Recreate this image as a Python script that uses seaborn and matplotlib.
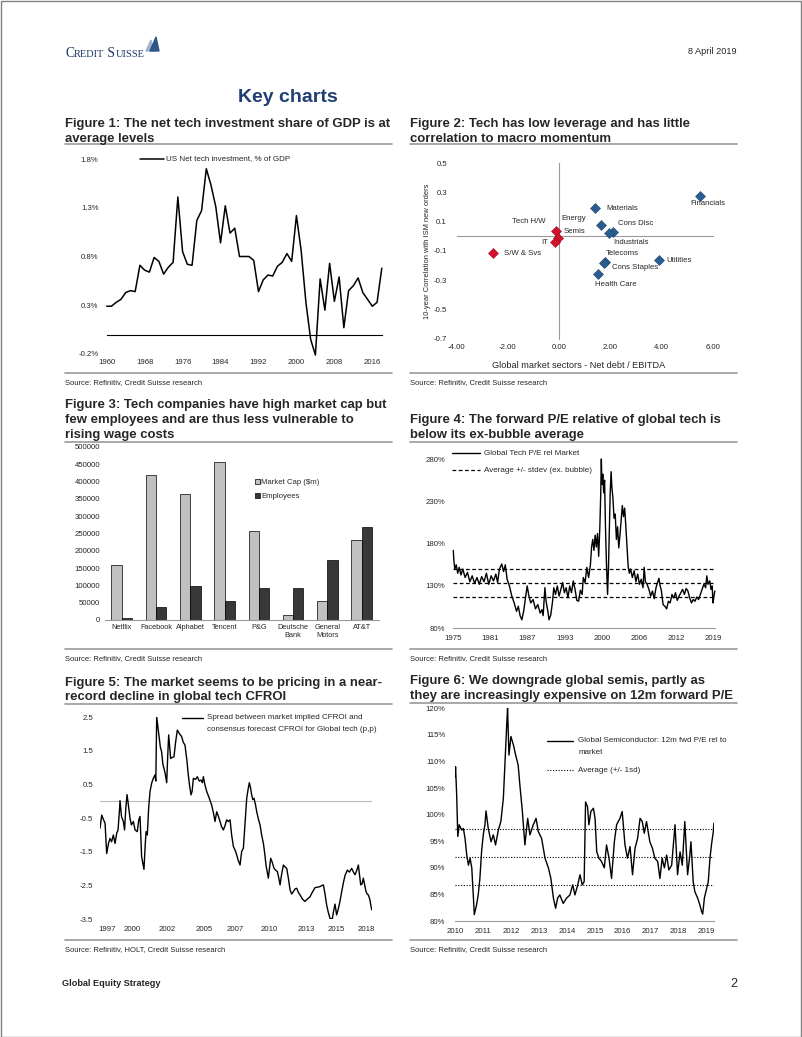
import numpy as np
import pandas as pd
import matplotlib
matplotlib.use("Agg")
import matplotlib.pyplot as plt
from matplotlib.lines import Line2D
from matplotlib.patches import Rectangle, Polygon, Patch
from matplotlib.ticker import FuncFormatter
import seaborn as sns

# ---------------- data ----------------
# Figure 1: US net tech investment, % of GDP (annual)
inv_years = list(range(1960, 2019))
inv_share = [0.29, 0.29, 0.33, 0.36, 0.43, 0.45, 0.44, 0.71, 0.66, 0.64,
             0.79, 0.75, 0.62, 0.69, 0.74, 1.41, 0.85, 0.72, 0.71, 1.17,
             1.27, 1.70, 1.53, 1.31, 0.94, 1.32, 1.04, 1.09, 0.80, 0.80,
             0.80, 0.76, 0.44, 0.56, 0.61, 0.60, 0.70, 0.74, 0.83, 0.75,
             1.22, 0.86, 0.33, -0.05, -0.21, 0.57, 0.25, 0.73, 0.34, 0.59,
             0.07, 0.45, 0.50, 0.58, 0.43, 0.36, 0.29, 0.33, 0.68]

# Figure 2: leverage vs correlation with ISM new orders
sector_names = ["Financials", "Materials", "Energy", "Cons Disc", "Industrials",
                "Telecoms", "Cons Staples", "Health Care", "Utilities"]
sector_leverage = [5.49, 1.41, 1.62, 2.09, 1.96, 1.80, 1.75, 1.51, 3.88]
sector_corr = [0.278, 0.194, 0.075, 0.027, 0.023, -0.173, -0.180, -0.256, -0.164]
tech_names = ["Tech H/W", "Semis", "IT", "S/W & Svs"]
tech_leverage = [-0.14, -0.06, -0.18, -2.58]
tech_corr = [0.039, -0.010, -0.040, -0.114]

# Figure 3: market cap vs employees
companies = ["Netflix", "Facebook", "Alphabet", "Tencent", "P&G",
             "Deutsche\nBank", "General\nMotors", "AT&T"]
market_cap = [160000, 419000, 364000, 455000, 258000, 13500, 54000, 232000]
employees = [7000, 36500, 98000, 56000, 91500, 91500, 172000, 267000]

# Figure 4: global tech P/E rel market (%)
pe_years = [1975.0, 1975.1, 1975.25, 1975.5, 1975.75, 1976.0, 1976.3, 1976.6, 1977.0, 1977.4,
            1977.8, 1978.2, 1978.6, 1979.0, 1979.4, 1979.8, 1980.2, 1980.6, 1981.0, 1981.4,
            1981.8, 1982.2, 1982.5, 1982.8, 1983.2, 1983.5, 1983.8, 1984.1, 1984.5, 1984.9,
            1985.3, 1985.7, 1986.0, 1986.3, 1986.6, 1986.9, 1987.2, 1987.5, 1987.8, 1988.1,
            1988.5, 1988.9, 1989.3, 1989.7, 1990.0, 1990.2, 1990.5, 1990.7, 1991.0, 1991.2,
            1991.5, 1991.8, 1992.0, 1992.3, 1992.6, 1992.9, 1993.2, 1993.5, 1993.8, 1994.1,
            1994.4, 1994.7, 1995.0, 1995.3, 1995.6, 1995.9, 1996.2, 1996.5, 1996.8, 1997.0,
            1997.3, 1997.6, 1997.9, 1998.2, 1998.4, 1998.6, 1998.8, 1999.0, 1999.2, 1999.4,
            1999.6, 1999.8, 1999.95, 2000.05, 2000.15, 2000.3, 2000.45, 2000.6, 2000.75, 2000.9,
            2001.0, 2001.1, 2001.25, 2001.4, 2001.55, 2001.7, 2001.85, 2002.0, 2002.2, 2002.4,
            2002.6, 2002.8, 2003.0, 2003.2, 2003.4, 2003.6, 2003.8, 2004.0, 2004.2, 2004.4,
            2004.6, 2004.8, 2005.0, 2005.3, 2005.6, 2005.9, 2006.2, 2006.5, 2006.8, 2007.1,
            2007.3, 2007.5, 2007.8, 2008.1, 2008.4, 2008.7, 2009.0, 2009.3, 2009.6, 2009.8,
            2010.0, 2010.2, 2010.5, 2010.8, 2011.1, 2011.4, 2011.7, 2012.0, 2012.3, 2012.6,
            2012.9, 2013.2, 2013.5, 2013.8, 2014.1, 2014.4, 2014.7, 2015.0, 2015.3, 2015.6,
            2015.9, 2016.2, 2016.5, 2016.8, 2017.1, 2017.4, 2017.7, 2017.9, 2018.1, 2018.4,
            2018.6, 2018.8, 2018.95, 2019.1, 2019.25]
pe_rel = [172, 160, 150, 155, 145, 152, 143, 150, 140, 146,
          135, 142, 133, 140, 132, 141, 135, 145, 132, 142,
          136, 144, 134, 150, 156, 147, 155, 138, 130, 118,
          110, 100, 106, 95, 90, 100, 115, 130, 118, 110,
          114, 103, 108, 98, 102, 95, 128, 112, 100, 90,
          96, 112, 128, 120, 130, 118, 126, 134, 122, 128,
          116, 130, 122, 136, 126, 113, 112, 125, 120, 140,
          134, 152, 140, 155, 176, 185, 172, 190, 176, 192,
          165, 200, 240, 280, 250, 262, 240, 255, 200, 160,
          140, 120, 150, 195, 240, 265, 245, 235, 210, 215,
          185, 200, 175, 190, 208, 225, 212, 222, 200, 175,
          152, 145, 150, 140, 148, 135, 144, 132, 138, 128,
          152, 135, 132, 126, 118, 124, 115, 128, 135, 139,
          130, 125, 108, 106, 103, 112, 110, 120, 116, 122,
          113, 118, 122, 126, 120, 127, 124, 116, 110, 114,
          112, 117, 114, 120, 126, 132, 128, 142, 132, 136,
          126, 130, 110, 118, 124]
pe_avg = 134.0
pe_sd = 16.5

# Figure 5: market implied minus consensus CFROI (p.p.)
cfroi_years = [1996.46, 1996.60, 1996.75, 1996.87, 1997.00, 1997.15, 1997.27, 1997.40, 1997.54, 1997.68,
               1997.81, 1997.92, 1998.03, 1998.08, 1998.20, 1998.35, 1998.45, 1998.55, 1998.65, 1998.75,
               1998.89, 1999.00, 1999.16, 1999.30, 1999.48, 1999.60, 1999.70, 1999.83, 2000.02, 2000.12,
               2000.19, 2000.29, 2000.40, 2000.51, 2000.65, 2000.78, 2000.91, 2000.98, 2001.05, 2001.15,
               2001.26, 2001.35, 2001.45, 2001.55, 2001.64, 2001.75, 2001.86, 2001.95, 2002.02, 2002.10,
               2002.18, 2002.30, 2002.45, 2002.58, 2002.72, 2002.90, 2003.07, 2003.20, 2003.34, 2003.50,
               2003.61, 2003.72, 2003.83, 2003.92, 2004.02, 2004.20, 2004.34, 2004.50, 2004.64, 2004.75,
               2004.83, 2004.95, 2005.10, 2005.30, 2005.50, 2005.65, 2005.77, 2005.91, 2006.05, 2006.18,
               2006.30, 2006.45, 2006.60, 2006.72, 2006.85, 2006.99, 2007.12, 2007.26, 2007.40, 2007.53,
               2007.65, 2007.80, 2007.93, 2008.07, 2008.20, 2008.34, 2008.45, 2008.55, 2008.65, 2008.74,
               2008.83, 2008.93, 2009.05, 2009.15, 2009.30, 2009.42, 2009.55, 2009.69, 2009.80, 2009.90,
               2010.00, 2010.09, 2010.18, 2010.28, 2010.40, 2010.55, 2010.70, 2010.82, 2010.95, 2011.04,
               2011.15, 2011.31, 2011.45, 2011.58, 2011.72, 2011.85, 2011.98, 2012.12, 2012.25, 2012.39,
               2012.52, 2012.66, 2012.85, 2013.06, 2013.25, 2013.47, 2013.65, 2013.87, 2014.05, 2014.27,
               2014.42, 2014.55, 2014.68, 2014.81, 2014.95, 2015.08, 2015.27, 2015.38, 2015.49, 2015.62,
               2015.75, 2015.89, 2016.02, 2016.16, 2016.30, 2016.49, 2016.65, 2016.84, 2016.98, 2017.11,
               2017.25, 2017.38, 2017.48, 2017.57, 2017.68, 2017.78, 2017.90, 2018.00, 2018.10, 2018.19,
               2018.30, 2018.40, 2018.46]
cfroi_spread = [-0.80, -0.41, -0.55, -0.65, -1.55, -1.25, -1.10, -1.20, -1.00, -1.25,
                -0.95, -0.85, -0.30, 0.02, -0.45, -0.60, -0.85, -0.20, 0.20, -0.10,
                -0.50, -0.70, -0.60, -0.85, -0.90, -0.55, -0.45, -1.64, -2.02, -1.30,
                -0.90, -1.00, -0.20, 0.29, 0.55, 0.68, 0.78, 0.60, 2.50, 2.20,
                1.87, 1.60, 1.47, 1.10, 0.98, 0.80, 0.55, 1.40, 1.97, 1.60,
                1.27, 1.30, 1.32, 1.75, 2.11, 2.00, 1.92, 1.75, 1.67, 1.20,
                0.78, 0.45, 0.19, 0.30, 0.68, 0.65, 0.73, 0.60, 0.63, 0.55,
                0.73, 0.50, 0.29, 0.10, -0.11, -0.35, -0.60, -0.31, -0.45, -0.60,
                -0.75, -0.85, -0.70, -0.55, -0.60, -0.55, -1.00, -1.34, -1.45, -1.59,
                -1.75, -1.89, -1.49, -1.39, -0.70, 0.09, 0.35, 0.55, 0.40, 0.19,
                0.05, 0.09, -0.10, -0.31, -0.55, -0.70, -1.00, -1.25, -1.55, -1.89,
                -2.10, -2.28, -2.00, -1.69, -1.80, -1.99, -2.05, -2.08, -2.30, -2.48,
                -2.20, -1.89, -1.95, -1.99, -2.30, -2.63, -2.75, -2.68, -2.60, -2.58,
                -2.70, -2.78, -2.90, -2.97, -2.90, -2.83, -2.70, -2.56, -2.55, -2.53,
                -2.50, -2.48, -2.75, -3.07, -3.30, -3.47, -3.49, -3.25, -3.05, -3.37,
                -3.20, -2.97, -2.70, -2.43, -2.20, -2.04, -2.10, -1.99, -2.10, -2.18,
                -2.05, -1.89, -2.20, -2.48, -2.45, -2.28, -2.50, -2.68, -2.75, -2.78,
                -2.90, -3.10, -3.22]

# Figure 6: global semis 12m fwd P/E rel to market (%)
semi_years = [2010.00, 2010.02, 2010.06, 2010.10, 2010.15, 2010.24, 2010.30, 2010.36, 2010.42, 2010.48,
              2010.54, 2010.60, 2010.66, 2010.69, 2010.77, 2010.83, 2010.89, 2010.95, 2011.01, 2011.07,
              2011.11, 2011.19, 2011.29, 2011.37, 2011.45, 2011.55, 2011.64, 2011.73, 2011.79, 2011.85,
              2011.88, 2011.93, 2012.00, 2012.09, 2012.17, 2012.26, 2012.32, 2012.41, 2012.50, 2012.60,
              2012.68, 2012.80, 2012.90, 2012.98, 2013.10, 2013.22, 2013.34, 2013.43, 2013.52, 2013.60,
              2013.67, 2013.75, 2013.87, 2013.99, 2014.11, 2014.21, 2014.29, 2014.39, 2014.47, 2014.55,
              2014.62, 2014.67, 2014.74, 2014.79, 2014.86, 2014.95, 2015.01, 2015.07, 2015.15, 2015.24,
              2015.34, 2015.42, 2015.51, 2015.60, 2015.70, 2015.78, 2015.90, 2015.98, 2016.08, 2016.17,
              2016.26, 2016.35, 2016.44, 2016.53, 2016.62, 2016.70, 2016.77, 2016.85, 2016.97, 2017.06,
              2017.15, 2017.25, 2017.33, 2017.41, 2017.49, 2017.57, 2017.65, 2017.75, 2017.87, 2017.96,
              2018.05, 2018.13, 2018.22, 2018.32, 2018.40, 2018.44, 2018.52, 2018.58, 2018.68, 2018.76,
              2018.82, 2018.86, 2018.92, 2019.00, 2019.06, 2019.12, 2019.18, 2019.24, 2019.26]
semi_rel = [107.1, 109.0, 103.7, 95.9, 98.1, 97.1, 97.4, 95.5, 92.4, 90.5,
            91.8, 90.0, 84.3, 81.2, 83.0, 84.9, 88.0, 93.0, 96.2, 98.1,
            100.7, 97.4, 94.9, 96.2, 94.3, 97.1, 98.7, 103.1, 110.0, 116.9,
            120.0, 111.2, 114.7, 113.1, 111.2, 109.3, 105.6, 100.6, 94.3, 99.3,
            96.2, 98.1, 99.3, 96.8, 95.5, 91.8, 90.0, 88.0, 84.3, 82.4,
            84.3, 84.9, 83.3, 84.3, 84.9, 86.8, 84.9, 86.8, 88.7, 86.8,
            87.4, 102.4, 101.5, 98.1, 100.6, 101.2, 99.3, 93.0, 91.8, 91.2,
            90.0, 94.3, 91.8, 88.0, 94.9, 98.1, 99.3, 100.6, 94.3, 91.8,
            94.0, 88.7, 93.7, 95.5, 99.3, 98.7, 96.5, 98.7, 94.9, 93.7,
            91.8, 91.2, 88.0, 91.8, 90.0, 92.4, 89.6, 90.5, 98.1, 88.7,
            93.0, 90.5, 98.7, 88.7, 92.4, 94.9, 87.4, 85.5, 84.3, 83.0,
            81.8, 81.3, 84.3, 86.1, 87.4, 91.8, 94.6, 96.8, 98.4]
semi_avg = 92.0
semi_sd = 5.3

# ---------------- page setup ----------------
W, H = 802, 1037
sns.set_style("white")
plt.rcParams["font.family"] = ["Liberation Sans", "DejaVu Sans"]
plt.rcParams["axes.unicode_minus"] = False

fig = plt.figure(figsize=(W / 100, H / 100), dpi=100)
fig.patch.set_facecolor("white")

GREY = "#9a9a9a"
TICK = 5.6
SRC = 5.5
LEG = 5.8
TITLE = 9.45


def add_ax(l, t, r, b):
    # axes box given in page pixels (left, top, right, bottom)
    ax = fig.add_axes([l / W, 1 - b / H, (r - l) / W, (b - t) / H])
    ax.set_facecolor("none")
    for s in ax.spines.values():
        s.set_visible(False)
    return ax


def put(x, y, s, **kw):
    return fig.text(x / W, 1 - y / H, s, **kw)


def rule(x0, x1, y, color=GREY, lw=1.2, ls="-"):
    fig.add_artist(Line2D([x0 / W, x1 / W], [1 - y / H, 1 - y / H],
                          color=color, lw=lw, ls=ls, transform=fig.transFigure))


def title_block(x, baselines, lines, rule_y, src_rule_y, src_y, src):
    for yb, s in zip(baselines, lines):
        put(x, yb, s, fontsize=TITLE, fontweight="bold", va="baseline")
    rule(x, x + 327, rule_y)
    rule(x, x + 327, src_rule_y)
    put(x, src_y, src, fontsize=SRC, va="baseline")


def legend_entry(x0, x1, y, lines, ls="-", lw=1.0, gap=3.5, dy=11.5):
    rule(x0, x1, y, color="black", lw=lw, ls=ls)
    for i, s in enumerate(lines):
        put(x1 + gap, y + i * dy, s, fontsize=LEG, va="center")


# page frame
fig.add_artist(Rectangle((0.5 / W, 0.5 / H), (W - 1.5) / W, (H - 1.5) / H,
                         transform=fig.transFigure, fill=False, edgecolor="#808080", lw=1))

# header
renderer = fig.canvas.get_renderer()
navy = "#1c3565"
x = 65
for part, size in [("C", 9.8), ("REDIT", 7.5), (" S", 9.8), ("UISSE", 7.5)]:
    t = put(x, 57, part, fontsize=size, family="Liberation Serif", color=navy, va="baseline")
    x += t.get_window_extent(renderer).width
fig.add_artist(Polygon([(146 / W, 1 - 51 / H), (151 / W, 1 - 40 / H), (153 / W, 1 - 51 / H)],
                       closed=True, transform=fig.transFigure, color="#9fb3cc"))
fig.add_artist(Polygon([(150 / W, 1 - 51 / H), (156 / W, 1 - 37 / H), (159 / W, 1 - 51 / H)],
                       closed=True, transform=fig.transFigure, color="#2f5588"))
put(737, 52, "8 April 2019", fontsize=6.6, ha="right", va="center")
put(288, 97, "Key charts", fontsize=14, fontweight="bold", color="#1f3f73", ha="center", va="center")

# footer
put(62, 984, "Global Equity Strategy", fontsize=6.6, fontweight="bold", va="center")
put(737, 984, "2", fontsize=9, ha="right", va="center")

# ---------------- Figure 1 ----------------
title_block(65, [126.7, 141.7],
            ["Figure 1: The net tech investment share of GDP is at", "average levels"],
            144.3, 373.3, 384.5, "Source: Refinitiv, Credit Suisse research")
ax1 = add_ax(106.7, 159, 381.8, 354)
sns.lineplot(x=inv_years, y=inv_share, ax=ax1, color="black", lw=1.1, estimator=None, sort=False)
ax1.lines[0].set_clip_on(False)
ax1.set_xlim(1960, 2018)
ax1.set_ylim(-0.2, 1.8)
yt1 = [-0.2, 0.3, 0.8, 1.3, 1.8]
ax1.set_yticks(yt1, labels=[f"{v:.1f}%" for v in yt1])
ax1.tick_params(axis="y", length=0, pad=6, labelsize=TICK)
xt1 = list(range(1960, 2017, 8))
ax1.spines["bottom"].set_visible(True)
ax1.spines["bottom"].set_position(("data", 0))
ax1.spines["bottom"].set_color("black")
ax1.spines["bottom"].set_linewidth(0.8)
ax1.set_xticks(xt1)
ax1.tick_params(axis="x", length=3, width=0.8, color="black", labelbottom=False)
sec1 = ax1.secondary_xaxis("bottom")
sec1.set_xticks(xt1, labels=[str(v) for v in xt1])
sec1.tick_params(length=0, pad=3.5, labelsize=TICK)
sec1.spines["bottom"].set_visible(False)
legend_entry(140, 164, 159, ["US Net tech investment, % of GDP"], lw=1.1, gap=2)

# ---------------- Figure 2 ----------------
title_block(410, [126.7, 141.7],
            ["Figure 2: Tech has low leverage and has little", "correlation to macro momentum"],
            144.3, 373.3, 384.5, "Source: Refinitiv, Credit Suisse research")
ax2 = add_ax(456.7, 163.3, 713, 338.7)
blue, red = "#2b5d90", "#d3122e"
sns.scatterplot(x=sector_leverage, y=sector_corr, ax=ax2, marker="D", s=26,
                color=blue, edgecolor="#1d4470", linewidth=0.4, zorder=3)
sns.scatterplot(x=tech_leverage, y=tech_corr, ax=ax2, marker="D", s=26,
                color=red, edgecolor="#9c0c20", linewidth=0.4, zorder=3)
ax2.set_xlim(-4, 6)
ax2.set_ylim(-0.7, 0.5)
xt2 = [-4, -2, 0, 2, 4, 6]
yt2 = [-0.7, -0.5, -0.3, -0.1, 0.1, 0.3, 0.5]
for side in ("left", "bottom"):
    ax2.spines[side].set_visible(True)
    ax2.spines[side].set_position(("data", 0))
    ax2.spines[side].set_color(GREY)
    ax2.spines[side].set_linewidth(0.8)
ax2.set_xticks(xt2)
ax2.set_yticks(yt2)
ax2.tick_params(length=2.5, width=0.8, color=GREY, labelleft=False, labelbottom=False)
sec2y = ax2.secondary_yaxis("left")
sec2y.set_yticks(yt2, labels=[f"{v:.1f}" for v in yt2])
sec2y.tick_params(length=0, pad=7, labelsize=TICK)
sec2y.spines["left"].set_visible(False)
sec2x = ax2.secondary_xaxis("bottom")
sec2x.set_xticks(xt2, labels=[f"{v:.2f}" for v in xt2])
sec2x.tick_params(length=0, pad=3.5, labelsize=TICK)
sec2x.spines["bottom"].set_visible(False)
put(578.7, 365, "Global market sectors - Net debt / EBITDA", fontsize=6.6, ha="center", va="center")
put(428, 251, "10-year Correlation with ISM new orders", fontsize=5.4, rotation=90,
    ha="center", va="center")

label_offsets = {  # pixel offsets (right, up) and alignment of each label
    "Financials": (8, -8, "center"), "Materials": (11, 0, "left"), "Energy": (-15, 7, "right"),
    "Cons Disc": (5, 9, "left"), "Industrials": (4, -9, "left"), "Telecoms": (0, 8, "left"),
    "Cons Staples": (8, -5, "left"), "Health Care": (-3, -11, "left"), "Utilities": (8, 0, "left"),
    "Tech H/W": (-10, 9, "right"), "Semis": (6, 6, "left"), "IT": (-6, 0, "right"),
    "S/W & Svs": (11, 0, "left"),
}
for names, xs, ys in [(sector_names, sector_leverage, sector_corr),
                      (tech_names, tech_leverage, tech_corr)]:
    for n, xv, yv in zip(names, xs, ys):
        dx, dy, ha = label_offsets[n]
        ax2.annotate(n, (xv, yv), xytext=(dx * 0.72, dy * 0.72), textcoords="offset points",
                     ha=ha, va="center", fontsize=5.6)

# ---------------- Figure 3 ----------------
title_block(65, [408.3, 423.3, 438.3],
            ["Figure 3: Tech companies have high market cap but",
             "few employees and are thus less vulnerable to", "rising wage costs"],
            441.7, 649.3, 660, "Source: Refinitiv, Credit Suisse research")
ax3 = add_ax(104.6, 446.7, 378.9, 620)
light, dark = "#c0c0c0", "#383838"
df3 = pd.DataFrame({
    "company": companies * 2,
    "value": market_cap + employees,
    "series": ["Market Cap ($m)"] * len(companies) + ["Employees"] * len(companies),
})
sns.barplot(data=df3, x="company", y="value", hue="series", palette=[light, dark],
            edgecolor="black", linewidth=0.5, width=0.6, errorbar=None, ax=ax3, legend=False)
ax3.set_xlim(-0.5, 7.5)
ax3.set_ylim(0, 500000)
ax3.set_xlabel("")
ax3.set_ylabel("")
ax3.set_yticks(range(0, 500001, 50000))
ax3.yaxis.set_major_formatter(FuncFormatter(lambda v, p: f"{int(v)}"))
ax3.tick_params(axis="y", length=0, pad=3.3, labelsize=TICK)
ax3.spines["bottom"].set_visible(True)
ax3.spines["bottom"].set_color(GREY)
ax3.spines["bottom"].set_linewidth(0.8)
ax3.set_xticks(np.arange(-0.5, 7.6, 1), minor=True)
ax3.tick_params(axis="x", which="major", length=0, pad=3, labelsize=5.3)
ax3.tick_params(axis="x", which="minor", length=3, width=0.8, color=GREY)
ax3.legend(handles=[Patch(facecolor=light, edgecolor="black", lw=0.5, label="Market Cap ($m)"),
                    Patch(facecolor=dark, edgecolor="black", lw=0.5, label="Employees")],
           loc="upper left", bbox_to_anchor=(0.548, 0.815), frameon=False, fontsize=5.6,
           handlelength=0.6, handleheight=0.6, handletextpad=0.2, labelspacing=0.85,
           borderpad=0, borderaxespad=0)

# ---------------- Figure 4 ----------------
title_block(410, [423.3, 438.3],
            ["Figure 4: The forward P/E relative of global tech is", "below its ex-bubble average"],
            441.7, 649.3, 660, "Source: Refinitiv, Credit Suisse research")
ax4 = add_ax(453.3, 459, 715.1, 628.3)
sns.lineplot(x=pe_years, y=pe_rel, ax=ax4, color="black", lw=1.0, estimator=None, sort=False)
ax4.lines[0].set_clip_on(False)
for lvl in (pe_avg - pe_sd, pe_avg, pe_avg + pe_sd):
    ax4.axhline(lvl, color="black", lw=0.9, ls=(0, (3, 2)))
ax4.set_xlim(1975, 2019.3)
ax4.set_ylim(80, 280)
yt4 = [80, 130, 180, 230, 280]
ax4.set_yticks(yt4, labels=[f"{v}%" for v in yt4])
ax4.tick_params(axis="y", length=0, pad=6, labelsize=TICK)
xt4_labels = ["1975", "1981", "1987", "1993", "2000", "2006", "2012", "2019"]
ax4.set_xticks(np.linspace(1975, 2019, len(xt4_labels)), labels=xt4_labels)
ax4.spines["bottom"].set_visible(True)
ax4.spines["bottom"].set_color(GREY)
ax4.spines["bottom"].set_linewidth(0.8)
ax4.tick_params(axis="x", length=2.5, width=0.8, color=GREY, pad=2.5, labelsize=TICK)
legend_entry(451.7, 480, 453.3, ["Global Tech P/E rel Market"], gap=4)
legend_entry(451.7, 480, 470, ["Average +/- stdev (ex. bubble)"], ls=(0, (3, 2)), lw=0.9, gap=4)

# ---------------- Figure 5 ----------------
title_block(65, [686, 700],
            ["Figure 5: The market seems to be pricing in a near-",
             "record decline in global tech CFROI"],
            704.3, 940, 951, "Source: Refinitiv, HOLT, Credit Suisse research")
ax5 = add_ax(100, 717, 371.7, 919.3)
ax5.axhline(0, color="#b8b8b8", lw=0.8, zorder=0)
sns.lineplot(x=cfroi_years, y=cfroi_spread, ax=ax5, color="black", lw=1.0, estimator=None, sort=False)
ax5.set_xlim(1996.46, 2018.46)
ax5.set_ylim(-3.5, 2.5)
yt5 = [-3.5, -2.5, -1.5, -0.5, 0.5, 1.5, 2.5]
ax5.set_yticks(yt5, labels=[f"{v:.1f}" for v in yt5])
ax5.tick_params(axis="y", length=0, pad=4.8, labelsize=TICK)
xt5_labels = ["1997", "2000", "2002", "2005", "2007", "2010", "2013", "2015", "2018"]
xt5_pos = [1997.0, 1999.1, 2001.9, 2004.9, 2007.4, 2010.2, 2013.2, 2015.6, 2018.0]
ax5.set_xticks(xt5_pos, labels=xt5_labels)
ax5.tick_params(axis="x", length=0, pad=5, labelsize=TICK)
legend_entry(181.7, 203.3, 717.7,
             ["Spread between market implied CFROI and",
              "consensus forecast CFROI for Global tech (p,p)"], gap=3.4)

# ---------------- Figure 6 ----------------
title_block(410, [684.3, 699.3],
            ["Figure 6: We downgrade global semis, partly as",
             "they are increasingly expensive on 12m forward P/E"],
            703.3, 940, 951, "Source: Refinitiv, Credit Suisse research")
ax6 = add_ax(455, 708.3, 713.6, 921)
sns.lineplot(x=semi_years, y=semi_rel, ax=ax6, color="black", lw=1.0, estimator=None, sort=False)
for lvl in (semi_avg - semi_sd, semi_avg, semi_avg + semi_sd):
    ax6.axhline(lvl, color="black", lw=0.8, ls=(0, (1, 1.5)))
ax6.set_xlim(2010, 2019.25)
ax6.set_ylim(80, 120)
yt6 = list(range(80, 121, 5))
ax6.set_yticks(yt6, labels=[f"{v}%" for v in yt6])
ax6.tick_params(axis="y", length=0, pad=7, labelsize=TICK)
xt6 = list(range(2010, 2020))
ax6.set_xticks(xt6, labels=[str(v) for v in xt6])
ax6.spines["bottom"].set_visible(True)
ax6.spines["bottom"].set_color(GREY)
ax6.spines["bottom"].set_linewidth(0.8)
ax6.tick_params(axis="x", length=2.5, width=0.8, color=GREY, pad=2.5, labelsize=TICK)
legend_entry(546.7, 573.3, 741, ["Global Semiconductor: 12m fwd P/E rel to", "market"], gap=5, dy=11.7)
legend_entry(546.7, 573.3, 770, ["Average (+/- 1sd)"], ls=(0, (1, 1.5)), lw=0.8, gap=5)

fig.savefig("out.png", dpi=100)
